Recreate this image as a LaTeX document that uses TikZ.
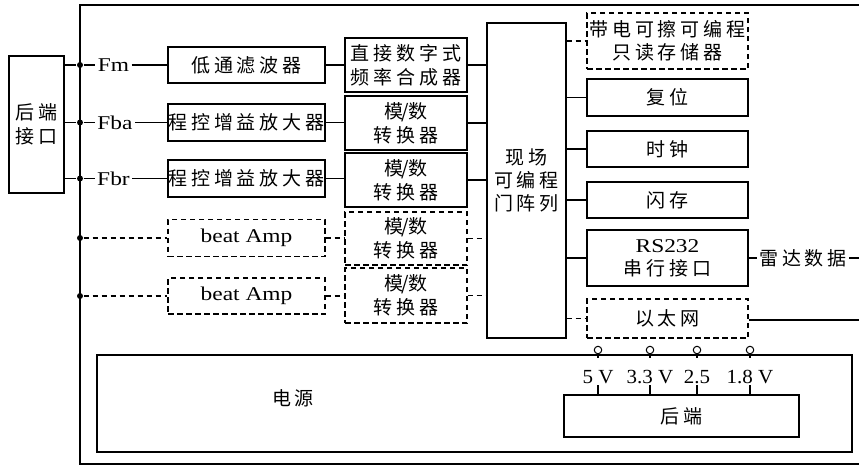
\documentclass[tikz,border=0pt]{standalone}
\usepackage{fontspec}
\setmainfont{Liberation Serif}
\newfontfamily\cjk{Noto Sans CJK SC}[LetterSpace=20]
\newfontfamily\lat{Liberation Serif}[FakeStretch=1.2]
\newfontfamily\latv{Liberation Serif}[FakeStretch=1.05]
\newcommand\sls{\kern-1.5pt/\kern-0.5pt}
\begin{document}
\begin{tikzpicture}[x=1pt,y=-1pt,
  line width=1.25pt,
  box/.style={draw, inner sep=0pt, align=center, font=\cjk\fontsize{19}{24}\selectfont},
  dbox/.style={box, dash pattern=on 5.5pt off 3.5pt},
  dline/.style={dash pattern=on 5.5pt off 3.5pt},
  lab/.style={inner sep=2pt, font=\lat\fontsize{19.5}{22}\selectfont},
  vlab/.style={inner sep=1pt, font=\latv\fontsize{20}{22}\selectfont},
  cjklab/.style={inner sep=2pt, align=center, font=\cjk\fontsize{19}{24}\selectfont},
  term/.style={circle, draw, line width=1pt, minimum size=7.5pt, inner sep=0pt},
  dot/.style={circle, fill, minimum size=6pt, inner sep=0pt}
]
\useasboundingbox (0,0) rectangle (859,467);
\fill[white] (0,0) rectangle (859,467);

% outer frame
\coordinate (ftr) at (862,5);
\coordinate (ftl) at (80,5);
\coordinate (fbl) at (80,464);
\coordinate (fbr) at (862,464);
\draw (ftr) -- (ftl) -- (fbl) -- (fbr);

% rear interface
\node[box, minimum width=55pt, minimum height=137pt] (hd) at (36.5,124.5) {后端\\接口};

% bus dots
\node[dot] (d1) at (80,65) {};
\node[dot] (d2) at (80,122.5) {};
\node[dot] (d3) at (80,178.5) {};
\node[dot] (d4) at (80,238) {};
\node[dot] (d5) at (80,296) {};

% signal labels
\node[lab] (fm) at (113.5,65) {Fm};
\node[lab] (fba) at (115,122.5) {Fba};
\node[lab] (fbr) at (113.5,178.5) {Fbr};

% column 1
\node[box, minimum width=157pt, minimum height=36pt] (lpf) at (246.5,65) {低通滤波器};
\node[box, minimum width=157pt, minimum height=37pt] (pga1) at (246.5,122.5) {程控增益放大器};
\node[box, minimum width=157pt, minimum height=37pt] (pga2) at (246.5,178.5) {程控增益放大器};
\node[dbox, minimum width=157pt, minimum height=37pt, font=\lat\fontsize{19.5}{22}\selectfont] (amp1) at (246.5,238) {beat Amp};
\node[dbox, minimum width=157pt, minimum height=36pt, font=\lat\fontsize{19.5}{22}\selectfont] (amp2) at (246.5,296) {beat Amp};

% column 2
\node[box, minimum width=122pt, minimum height=54pt] (dds) at (406,65) {直接数字式\\频率合成器};
\node[box, minimum width=122pt, minimum height=54pt] (adc1) at (406,123) {模\sls 数\\转换器};
\node[box, minimum width=122pt, minimum height=54pt] (adc2) at (406,180) {模\sls 数\\转换器};
\node[dbox, minimum width=122pt, minimum height=53pt] (adc3) at (406,238.5) {模\sls 数\\转换器};
\node[dbox, minimum width=122pt, minimum height=55pt] (adc4) at (406,295.5) {模\sls 数\\转换器};

% FPGA
\node[box, minimum width=79pt, minimum height=315pt, font=\cjk\fontsize{19}{23}\selectfont] (fpga) at (526.5,180.5) {现场\\可编程\\门阵列};

% column 3
\node[dbox, minimum width=161pt, minimum height=56pt, font=\cjk\fontsize{19}{23}\selectfont] (eep) at (667.5,41) {带电可擦可编程\\只读存储器};
\node[box, minimum width=161pt, minimum height=37pt] (rst) at (667.5,97.5) {复位};
\node[box, minimum width=161pt, minimum height=36pt] (clk) at (667.5,149) {时钟};
\node[box, minimum width=161pt, minimum height=36pt] (fls) at (667.5,200) {闪存};
\node[box, minimum width=161pt, minimum height=56pt, font=\cjk\fontsize{19}{23}\selectfont] (rs) at (667.5,258) {{\lat\fontsize{19.5}{22}\selectfont RS232}\\串行接口};
\node[dbox, minimum width=161pt, minimum height=39pt] (eth) at (667.5,318.5) {以太网};

\node[cjklab] (radar) at (803,258) {雷达数据};
\coordinate (rend) at (862,258);
\coordinate (eend) at (862,320);

% power
\node[draw, minimum width=755pt, minimum height=97pt, inner sep=0pt] (pw) at (474.5,403.5) {};
\node[cjklab] (pwt) at (293,398) {电源};
\node[box, minimum width=235pt, minimum height=42pt] (be) at (681.5,416) {后端};

\node[term] (c1) at (598,350) {};
\node[term] (c2) at (650,350) {};
\node[term] (c3) at (697,350) {};
\node[term] (c4) at (750,350) {};
\node[vlab] (v1) at (598,377) {5 V};
\node[vlab] (v2) at (650,377) {3.3 V};
\node[vlab] (v3) at (697,377) {2.5};
\node[vlab] (v4) at (750,377) {1.8 V};

% connectors: rear interface to bus
\draw (hd.east |- d1) -- (d1);
\draw (hd.east |- d2) -- (d2);
\draw (hd.east |- d3) -- (d3);

% bus to column 1
\draw (d1) -- (fm) -- (lpf);
\draw (d2) -- (fba) -- (pga1);
\draw (d3) -- (fbr) -- (pga2);
\draw[dline] (d4) -- (amp1.west |- d4);
\draw[dline] (d5) -- (amp2.west |- d5);

% column 1 to column 2
\draw (lpf.east) -- (lpf.east -| dds.west);
\draw (pga1.east) -- (pga1.east -| adc1.west);
\draw (pga2.east) -- (pga2.east -| adc2.west);
\draw[dline] (amp1.east) -- (amp1.east -| adc3.west);
\draw[dline] (amp2.east) -- (amp2.east -| adc4.west);

% column 2 to FPGA
\draw (dds.east) -- (dds.east -| fpga.west);
\draw (adc1.east) -- (adc1.east -| fpga.west);
\draw (adc2.east) -- (adc2.east -| fpga.west);
\draw[dline] (adc3.east) -- (adc3.east -| fpga.west);
\draw[dline] (adc4.east) -- (adc4.east -| fpga.west);

% FPGA to column 3
\draw[dline] (fpga.east |- eep) -- (eep.west);
\draw (fpga.east |- rst) -- (rst.west);
\draw (fpga.east |- clk) -- (clk.west);
\draw (fpga.east |- fls) -- (fls.west);
\draw (fpga.east |- rs) -- (rs.west);
\draw[dline] (fpga.east |- eth) -- (eth.west);

% outputs
\draw (rs.east) -- (radar) -- (rend);
\draw (eth.east |- eend) -- (eend);

% power terminals
\foreach \i in {1,2,3,4}{
  \draw (c\i.south) -- ++(0,4);
  \draw (v\i.south) -- (v\i.south |- be.north);
}
\end{tikzpicture}
\end{document}
